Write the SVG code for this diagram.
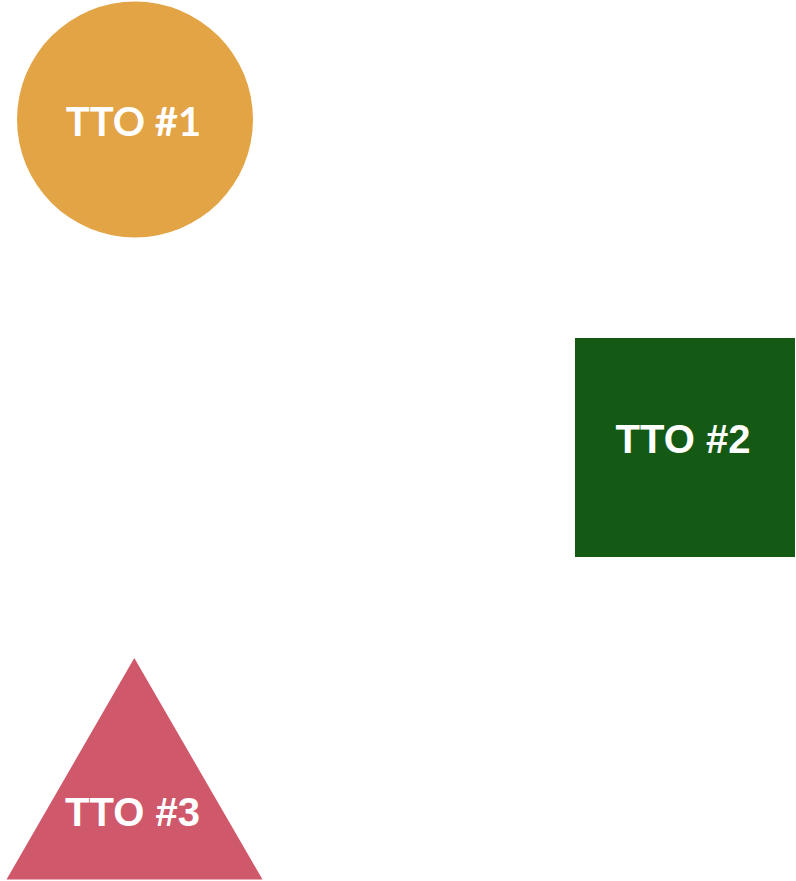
<svg xmlns="http://www.w3.org/2000/svg" width="796" height="881" viewBox="0 0 796 881">
<style>
.lbl{fill:#ffffff;font-weight:bold;font-size:40px;text-anchor:middle}
.lato{font-family:Lato,"Liberation Sans",sans-serif}
.arial{font-family:"Liberation Sans",Arial,sans-serif}
</style>
<rect x="0" y="0" width="796" height="881" fill="#ffffff"/>
<g id="connectors"></g>
<g id="tto1">
<circle cx="135" cy="119.5" r="118" fill="#E3A445"/>
<text class="lbl lato" x="133.5" y="136">TTO #1</text>
</g>
<g id="tto2">
<rect x="575" y="338" width="220" height="219" fill="#155A14"/>
<text class="lbl arial" x="683" y="453">TTO #2</text>
</g>
<g id="tto3">
<polygon points="134.3,658 262.5,879.5 6.5,879.5" fill="#D0586B"/>
<text class="lbl arial" x="132.5" y="825.5">TTO #3</text>
</g>
</svg>
